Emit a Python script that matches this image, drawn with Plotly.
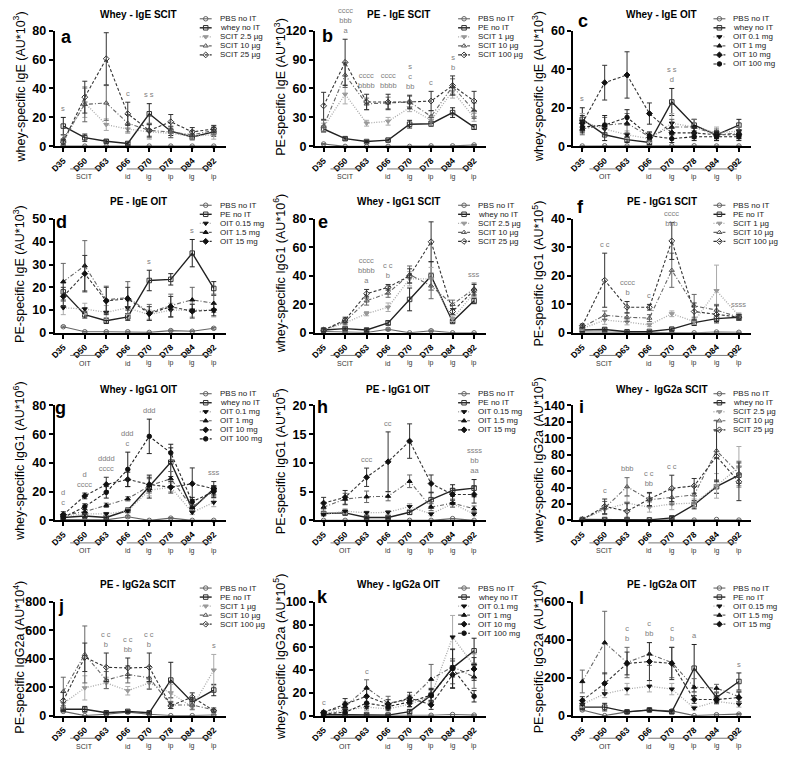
import plotly.graph_objects as go

W, H = 785, 757
FONT = "Liberation Sans, Arial, sans-serif"

DAYS = ["D35", "D50", "D63", "D66", "D70", "D78", "D84", "D92"]
TREAT = ["id", "ig", "ip", "ig", "ip"]

# ---- panel a: whey IgE, SCIT ----
A_NAMES = ["PBS no IT", "whey no IT", "SCIT 2.5 µg", "SCIT 10 µg", "SCIT 25 µg"]
A_VALS = [[0.3, 0.2, 0.2, 0.2, 0.2, 0.2, 0.2, 0.2],
          [14, 6, 3.5, 2, 22.5, 10.5, 6.5, 10],
          [3, 30, 15, 12, 10, 9, 7, 8],
          [5, 29, 30, 16, 11, 10, 8, 11],
          [3, 34, 60.5, 22.5, 11, 17, 10, 12]]
A_ERRS = [[0, 0, 0, 0, 0, 0, 0, 0],
          [6, 2.5, 1, 1, 7, 3, 2, 3],
          [2, 10, 4, 3, 5, 3, 2, 3],
          [3, 12, 12, 6, 5, 4, 3, 3],
          [2, 11, 18, 8, 4, 5, 3, 2.5]]
A_SIG = {0: "s", 2: "ccc", 3: "c", 4: "s s"}

# ---- panel b: PE IgE, SCIT ----
B_NAMES = ["PBS no IT", "PE no IT", "SCIT 1 µg", "SCIT 10 µg", "SCIT 100 µg"]
B_VALS = [[2.5, 0, 0, 0, 0, 0.5, 0.5, 1.5],
          [18, 8, 5, 6.5, 23, 23.5, 35, 20],
          [20, 54, 24, 26, 40, 27, 57, 30],
          [21, 74, 44, 45, 46, 31, 62, 37],
          [42, 87, 46, 46, 46, 47, 63, 47]]
B_ERRS = [[0.5, 0, 0, 0, 0, 0.3, 0.3, 0.5],
          [3, 1.5, 1, 1, 4, 2.5, 5, 2.5],
          [4, 10, 3, 4, 4, 5, 7, 4],
          [6, 13, 6, 6, 6, 6, 8, 8],
          [14, 24, 8, 8, 7, 10, 10, 10]]
B_SIG = {1: "cccc<br>bbb<br>a", 2: "cccc<br>bbbb", 3: "cccc<br>bbbb",
         4: "s<br>c<br>bb", 5: "c", 6: "s<br>b"}

# ---- panel c: whey IgE, OIT ----
C_NAMES = ["PBS no IT", "whey no IT", "OIT 0.1 mg", "OIT 1 mg", "OIT 10 mg", "OIT 100 mg"]
C_VALS = [[0.2, 0.3, 0.2, 0.2, 0.3, 0.3, 0.2, 0.2],
          [14, 6, 3.5, 2, 23, 11, 6, 11],
          [13, 9, 6, 4, 12, 10, 7, 8],
          [9, 11, 12, 5, 10, 10, 6, 7],
          [12, 33, 37, 17, 7, 7, 6, 6],
          [10, 11, 15, 5.5, 4, 5, 5, 5]]
C_ERRS = [[0, 0, 0, 0, 0, 0, 0, 0],
          [6, 3, 1.5, 1, 7, 3, 2, 3],
          [4, 3, 2, 2, 5, 4, 3, 2],
          [3, 4, 5, 2, 4, 4, 3, 3],
          [4, 9, 12, 5.5, 3, 3, 2, 2],
          [3, 5, 4, 2, 2, 2, 2, 2]]
C_SIG = {0: "s", 4: "s s<br>d"}

# ---- panel d: PE IgE, OIT ----
D_NAMES = ["PBS no IT", "PE no IT", "OIT 0.15 mg", "OIT 1.5 mg", "OIT 15 mg"]
D_VALS = [[2.7, 0.5, 0.5, 0.5, 0.2, 1, 0.7, 2],
          [18, 8, 5.3, 7, 23, 23.5, 35, 19.5],
          [11, 10.5, 9, 11, 8, 10, 10, 10],
          [22.5, 29.5, 14.5, 15.5, 9, 12, 14.5, 13],
          [16, 26, 14, 15, 8.5, 11.5, 9.5, 10]]
D_ERRS = [[0.3, 0.2, 0.2, 0.2, 0.1, 0.3, 0.2, 0.4],
          [4, 1.5, 1.2, 1.5, 4.5, 2.5, 6, 3],
          [3, 2.5, 3, 3, 2, 3, 3, 3],
          [8, 11, 6, 7, 3.5, 5, 5.5, 4],
          [4, 8, 6, 5, 3, 4.5, 3, 2.5]]
D_SIG = {4: "s", 6: "s"}

# ---- panel e: whey IgG1, SCIT ----
E_NAMES = ["PBS no IT", "whey no IT", "SCIT 2.5 µg", "SCIT 10 µg", "SCIT 25 µg"]
E_VALS = [[1, 0.5, 0.3, 2.5, 0, 1.5, 0, 0],
          [2, 3, 2, 7, 23.5, 40, 8, 22.5],
          [2, 7, 13.5, 18, 38, 38, 10, 28],
          [2, 8, 22.5, 28, 41, 33, 20, 31],
          [2, 9, 27.5, 32, 40, 64, 15, 30]]
E_ERRS = [[0.3, 0.2, 0.1, 0.8, 0, 0.5, 0, 0],
          [1, 1, 1, 1.5, 8, 10, 1, 2],
          [1, 2, 1.5, 3, 5, 8, 2, 3],
          [1, 2, 3, 3, 6, 9, 3, 4],
          [1, 2, 3, 2, 5, 14, 2, 4]]
E_SIG = {2: "cccc<br>bbbb<br>a", 3: "c c<br>b", 7: "sss"}

# ---- panel f: PE IgG1, SCIT ----
F_NAMES = ["PBS no IT", "PE no IT", "SCIT 1 µg", "SCIT 10 µg", "SCIT 100 µg"]
F_VALS = [[0.3, 0.2, 0.1, 0.1, 0, 0, 0.3, 0.2],
          [1, 1.2, 0.4, 0.5, 1.3, 3.6, 5, 5.5],
          [1.5, 4.5, 3.8, 2.8, 6.7, 4, 14.8, 6],
          [2, 6.2, 5.5, 5.2, 22, 9.5, 8, 5.5],
          [2.5, 18.5, 9, 9, 32.3, 7.5, 6.5, 5.5]]
F_ERRS = [[0, 0, 0, 0, 0, 0, 0, 0],
          [0.5, 0.5, 0.2, 0.2, 0.4, 1, 1, 1],
          [0.5, 1.5, 1, 0.6, 1, 1, 9, 1],
          [0.6, 1.5, 1.5, 1.2, 6, 4, 2, 1],
          [0.6, 9.5, 2, 1, 6.5, 3, 3, 1]]
F_SIG = {1: "c c", 2: "cccc<br>b", 3: "c", 4: ("cccc<br>bbb", 36), 7: "ssss"}

# ---- panel g: whey IgG1, OIT ----
G_NAMES = ["PBS no IT", "whey no IT", "OIT 0.1 mg", "OIT 1 mg", "OIT 10 mg", "OIT 100 mg"]
G_VALS = [[0.5, 0.3, 0.3, 2.5, 0, 1.5, 0, 0],
          [2, 3, 2, 7, 23.5, 40.5, 8, 22],
          [3, 4.5, 4.5, 6.5, 21, 23, 5.5, 12.5],
          [3.5, 6, 10.5, 15, 24, 29, 9, 21],
          [4, 17, 25, 28.5, 25, 23, 25.5, 22],
          [2, 9.5, 19.5, 35.5, 58.5, 47, 13, 20]]
G_ERRS = [[0.2, 0.1, 0.1, 0.8, 0, 0.5, 0, 0],
          [1, 1, 1, 1.5, 8, 10, 1, 2],
          [1, 1, 1, 1.5, 4, 3, 1.5, 3],
          [1, 1.5, 1.5, 1.5, 5, 5, 2, 3],
          [2, 2, 5, 5, 5, 4, 11, 5],
          [1, 2, 4, 12, 12, 6, 3, 4]]
G_SIG = {0: "d<br>c", 1: "d<br>cccc", 2: "dddd<br>cccc", 3: "ddd<br>c", 4: "ddd", 7: "sss"}

# ---- panel h: PE IgG1, OIT ----
H_NAMES = ["PBS no IT", "PE no IT", "OIT 0.15 mg", "OIT 1.5 mg", "OIT 15 mg"]
H_VALS = [[0, 0, 0, 0, 0, 0, 0.3, 0],
          [1.2, 1.3, 0.5, 0.5, 1.4, 3.6, 5.2, 5.6],
          [1, 1.6, 1.3, 1.4, 2.4, 1.1, 2.9, 1.1],
          [2.3, 3.7, 4.1, 4.2, 6.8, 2.3, 3, 2],
          [3, 4, 7.5, 10.2, 13.8, 6.4, 4.5, 4.5]]
H_ERRS = [[0, 0, 0, 0, 0, 0, 0, 0],
          [0.3, 0.4, 0.2, 0.2, 0.4, 1.2, 1, 1.5],
          [0.3, 0.4, 0.3, 0.3, 0.5, 0.3, 0.6, 0.3],
          [0.8, 1, 1, 0.8, 1.1, 0.6, 0.7, 0.5],
          [1, 1.2, 1.6, 5.2, 3, 1.5, 1, 1.5]]
H_SIG = {2: "ccc", 3: "cc", 7: "ssss<br>bb<br>aa"}

# ---- panel i: whey IgG2a, SCIT ----
I_NAMES = ["PBS no IT", "whey no IT", "SCIT 2.5 µg", "SCIT 10 µg", "SCIT 25 µg"]
I_VALS = [[0.5, 0.5, 0.3, 0.3, 0.3, 0.3, 1, 0.3],
          [1, 1, 1, 0.5, 3, 19, 41, 55],
          [1, 13, 21, 16, 20, 21, 42, 65],
          [1, 15, 41, 25, 28, 31, 85, 57],
          [1, 17, 11, 26, 39, 42, 78, 47]]
I_ERRS = [[0, 0, 0, 0, 0, 0, 0, 0],
          [0.5, 0.5, 0.5, 0.3, 1.5, 5, 8, 10],
          [0.5, 5, 8, 6, 7, 5, 15, 25],
          [0.5, 8, 11, 8, 9, 10, 37, 15],
          [0.5, 9, 10, 8, 16, 9, 31, 23]]
I_SIG = {1: "c", 2: "bbb", 3: "c c<br>bb", 4: "c c"}

# ---- panel j: PE IgG2a, SCIT ----
J_NAMES = ["PBS no IT", "PE no IT", "SCIT 1 µg", "SCIT 10 µg", "SCIT 100 µg"]
J_VALS = [[30, 0, 10, 25, 10, 0, 0, 5],
          [45, 45, 20, 30, 20, 250, 95, 180],
          [85, 195, 230, 175, 230, 160, 60, 320],
          [170, 430, 250, 290, 265, 75, 75, 40],
          [105, 410, 340, 335, 340, 70, 130, 35]]
J_ERRS = [[5, 0, 3, 5, 3, 0, 0, 2],
          [10, 20, 8, 8, 8, 125, 30, 40],
          [30, 85, 40, 30, 40, 60, 20, 110],
          [100, 200, 60, 60, 80, 25, 30, 15],
          [60, 100, 100, 70, 100, 20, 30, 10]]
J_SIG = {2: "c c<br>b", 3: "c c<br>bb", 4: "c c<br>b", 7: "s"}

# ---- panel k: whey IgG2a, OIT ----
K_NAMES = ["PBS no IT", "whey no IT", "OIT 0.1 mg", "OIT 1 mg", "OIT 10 mg", "OIT 100 mg"]
K_VALS = [[0, 0.3, 0.3, 0.3, 0.3, 0.3, 1, 0.5],
          [1, 1, 1, 0.5, 3.5, 18, 42, 57],
          [2, 5, 7.5, 6, 10, 17, 69, 44],
          [3, 8, 24.5, 11, 14, 32, 43, 34],
          [3, 10, 17, 10, 15.5, 9.5, 36, 41],
          [1.5, 3, 11, 8, 12, 18, 41.5, 17]]
K_ERRS = [[0, 0, 0, 0, 0, 0, 0, 0],
          [0.5, 0.5, 0.5, 0.3, 1.5, 5, 8, 11],
          [1, 2, 3, 2, 3, 5, 19, 10],
          [1, 4, 7, 6, 4, 13, 15, 10],
          [1, 5, 6, 4, 5, 4, 12, 10],
          [1, 2, 5, 3, 4, 6, 17, 5]]
K_SIG = {0: "c", 2: "c"}

# ---- panel l: PE IgG2a, OIT ----
L_NAMES = ["PBS no IT", "PE no IT", "OIT 0.15 mg", "OIT 1.5 mg", "OIT 15 mg"]
L_VALS = [[30, 0, 20, 30, 25, 0, 5, 8],
          [45, 45, 20, 30, 20, 250, 95, 180],
          [60, 115, 140, 155, 140, 40, 75, 60],
          [180, 385, 280, 325, 280, 150, 145, 100],
          [80, 170, 275, 285, 275, 85, 85, 95]]
L_ERRS = [[5, 0, 4, 5, 4, 0, 2, 3],
          [10, 20, 8, 8, 8, 125, 25, 45],
          [15, 20, 30, 30, 30, 10, 15, 15],
          [60, 165, 80, 60, 80, 45, 20, 25],
          [20, 55, 60, 100, 85, 20, 20, 30]]
L_SIG = {2: "c<br>b", 3: "c<br>bb", 4: "c<br>b", 5: "a", 7: "s"}

PANELS = [
    dict(letter="a", title="Whey - IgE SCIT", ytitle="whey-specific IgE (AU*10<sup>3</sup>)", ymax=80, dtick=20,
         route="SCIT", names=A_NAMES, vals=A_VALS, errs=A_ERRS, sig=A_SIG, lpos=(62, 31)),
    dict(letter="b", title="PE - IgE SCIT", ytitle="PE-specific IgE (AU*10<sup>3</sup>)", ymax=120, dtick=30,
         route="SCIT", names=B_NAMES, vals=B_VALS, errs=B_ERRS, sig=B_SIG, lpos=(325, 30)),
    dict(letter="c", title="Whey - IgE OIT", ytitle="whey-specific IgE (AU*10<sup>3</sup>)", ymax=60, dtick=20,
         route="OIT", names=C_NAMES, vals=C_VALS, errs=C_ERRS, sig=C_SIG, lpos=(582, 14)),
    dict(letter="d", title="PE - IgE OIT", ytitle="PE-specific IgE (AU*10<sup>3</sup>)", ymax=50, dtick=10,
         route="OIT", names=D_NAMES, vals=D_VALS, errs=D_ERRS, sig=D_SIG, lpos=(57, 219)),
    dict(letter="e", title="Whey - IgG1 SCIT", ytitle="whey-specific IgG1 (AU*10<sup>6</sup>)", ymax=80, dtick=20,
         route="SCIT", names=E_NAMES, vals=E_VALS, errs=E_ERRS, sig=E_SIG, lpos=(320, 219)),
    dict(letter="f", title="PE - IgG1 SCIT", ytitle="PE-specific IgG1 (AU*10<sup>5</sup>)", ymax=40, dtick=10,
         route="SCIT", names=F_NAMES, vals=F_VALS, errs=F_ERRS, sig=F_SIG, lpos=(579, 204)),
    dict(letter="g", title="Whey - IgG1 OIT", ytitle="whey-specific IgG1 (AU*10<sup>6</sup>)", ymax=80, dtick=20,
         route="OIT", names=G_NAMES, vals=G_VALS, errs=G_ERRS, sig=G_SIG, lpos=(56, 409)),
    dict(letter="h", title="PE - IgG1 OIT", ytitle="PE-specific IgG1 (AU*10<sup>5</sup>)", ymax=20, dtick=5,
         route="OIT", names=H_NAMES, vals=H_VALS, errs=H_ERRS, sig=H_SIG, lpos=(320, 408)),
    dict(letter="i", title="Whey -  IgG2a SCIT", ytitle="whey-specific IgG2a (AU*10<sup>5</sup>)", ymax=140, dtick=20,
         route="SCIT", names=I_NAMES, vals=I_VALS, errs=I_ERRS, sig=I_SIG, lpos=(580, 408)),
    dict(letter="j", title="PE - IgG2a SCIT", ytitle="PE-specific IgG2a (AU*10<sup>4</sup>)", ymax=800, dtick=200,
         route="SCIT", names=J_NAMES, vals=J_VALS, errs=J_ERRS, sig=J_SIG, lpos=(56, 610)),
    dict(letter="k", title="Whey - IgG2a OIT", ytitle="whey-specific IgG2a (AU*10<sup>5</sup>)", ymax=100, dtick=20,
         route="OIT", names=K_NAMES, vals=K_VALS, errs=K_ERRS, sig=K_SIG, lpos=(320, 601)),
    dict(letter="l", title="PE - IgG2a OIT", ytitle="PE-specific IgG2a (AU*10<sup>4</sup>)", ymax=600, dtick=200,
         route="OIT", names=L_NAMES, vals=L_VALS, errs=L_ERRS, sig=L_SIG, lpos=(580, 602)),
]

# geometry in pixels
COL_X = [(50, 222), (312, 484), (572, 751)]
ROW_Y = [(24, 142), (216, 332), (406, 523), (606, 722)]
TITLE_Y = [8, 198, 390, 588]
TITLE_X = [134, 396, 661]
YTITLE_X = [14, 276, 536]
LEG_X = [214, 474, 731]

LINES = [dict(color="#666666", dash="solid", width=1.1),
         dict(color="#222222", dash="solid", width=1.4),
         dict(color="#aaaaaa", dash="1px,1.5px", width=1.3),
         dict(color="#666666", dash="4px,2px,1px,2px", width=1.1),
         dict(color="#333333", dash="3px,2px", width=1.1),
         dict(color="#222222", dash="3px,2px", width=1.1)]
MARK_SCIT = [("circle-open", "#666666"), ("square-open", "#333333"), ("triangle-down", "#999999"),
             ("triangle-up-open", "#555555"), ("diamond-open", "#333333")]
MARK_OIT = [("circle-open", "#666666"), ("square-open", "#333333"), ("triangle-down", "#111111"),
            ("triangle-up", "#111111"), ("diamond", "#111111"), ("circle", "#111111")]


def px(x):
    return x / W


def py(y):
    return 1 - y / H


fig = go.Figure()
ann = []
shapes = []

for p, P in enumerate(PANELS):
    r, c = divmod(p, 3)
    n = "" if p == 0 else str(p + 1)
    xa, ya = "x" + n, "y" + n
    marks = MARK_SCIT if P["route"] == "SCIT" else MARK_OIT

    for i, (name, v, e) in enumerate(zip(P["names"], P["vals"], P["errs"])):
        ls = LINES[i]
        sym, mc = marks[i]
        fig.add_trace(go.Scatter(
            x=DAYS, y=v, xaxis=xa, yaxis=ya, mode="lines+markers", name=name, showlegend=False,
            line=dict(color=ls["color"], dash=ls["dash"], width=ls["width"]),
            marker=dict(symbol=sym, color=mc, size=4.5, line=dict(color=mc, width=1)),
            error_y=dict(type="data", array=e, color=ls["color"], thickness=1, width=2.5),
            cliponaxis=False))

        # legend key drawn on the pixel overlay axis
        ly = TITLE_Y[r] + 4 + 9.2 * i
        lx = LEG_X[c]
        fig.add_trace(go.Scatter(
            x=[lx - 18, lx - 6], y=[ly, ly], xaxis="x13", yaxis="y13", mode="lines", showlegend=False,
            line=dict(color=ls["color"], dash=ls["dash"], width=ls["width"]), hoverinfo="skip"))
        fig.add_trace(go.Scatter(
            x=[lx - 12], y=[ly], xaxis="x13", yaxis="y13", mode="markers", showlegend=False,
            marker=dict(symbol=sym, color=mc, size=4.5, line=dict(color=mc, width=1)), hoverinfo="skip"))
        ann.append(dict(x=px(lx), y=py(ly), xref="paper", yref="paper", text=name, showarrow=False,
                        xanchor="left", yanchor="middle", font=dict(size=8, color="#222", family=FONT)))

    x0, x1 = COL_X[c]
    yt, yb = ROW_Y[r]
    fig.update_layout(**{
        "xaxis" + n: dict(domain=[px(x0), px(x1)], anchor=ya, type="category",
                          categoryorder="array", categoryarray=DAYS,
                          range=[-0.4, 7.55], showline=True, linewidth=2, linecolor="black",
                          ticks="outside", ticklen=4, tickwidth=1.5, tickcolor="black", tickangle=-45,
                          tickfont=dict(size=8.5, family=FONT, color="black", weight="bold"),
                          showgrid=False, zeroline=False),
        "yaxis" + n: dict(domain=[py(yb), py(yt)], anchor=xa, range=[0, P["ymax"]],
                          tickvals=list(range(0, P["ymax"] + 1, P["dtick"])),
                          showline=True, linewidth=2, linecolor="black", ticks="outside", ticklen=4,
                          tickwidth=1.5, tickcolor="black",
                          tickfont=dict(size=12.5, family=FONT, color="black", weight="bold"),
                          showgrid=False, zeroline=False),
    })

    # titles, letter, y title
    ann.append(dict(x=px(TITLE_X[c]), y=py(TITLE_Y[r]), xref="paper", yref="paper", text=P["title"],
                    showarrow=False, xanchor="center", yanchor="middle",
                    font=dict(size=10, family=FONT, color="black", weight="bold")))
    ann.append(dict(x=px(P["lpos"][0]), y=py(P["lpos"][1]), xref="paper", yref="paper", text=P["letter"],
                    showarrow=False, xanchor="center", yanchor="middle",
                    font=dict(size=18, family=FONT, color="black", weight="bold")))
    ann.append(dict(x=px(YTITLE_X[c]), y=py((yt + yb) / 2 - 2), xref="paper", yref="paper", text=P["ytitle"],
                    showarrow=False, textangle=-90, xanchor="center", yanchor="middle",
                    font=dict(size=12.5, family=FONT, color="black")))

    # significance letters above the highest error bar (or at a read-off height)
    for idx, item in P["sig"].items():
        if isinstance(item, tuple):
            txt, ypos = item
        else:
            txt = item
            ypos = max(v[idx] + e[idx] for v, e in zip(P["vals"], P["errs"])) + 0.02 * P["ymax"]
        ann.append(dict(x=DAYS[idx], y=ypos, xref=xa, yref=ya, text=txt, showarrow=False,
                        xanchor="center", yanchor="bottom",
                        font=dict(size=7.5, family=FONT, color="#808080")))

    # treatment brackets under the axis
    by = py(yb + 23)
    ly2 = py(yb + 31)
    shapes.append(dict(type="line", xref=xa, yref="paper", x0=0.32, x1=1.8, y0=by, y1=by,
                       line=dict(color="#777", width=1)))
    shapes.append(dict(type="line", xref=xa, yref="paper", x0=2.95, x1=6.9, y0=by, y1=by,
                       line=dict(color="#777", width=1)))
    ann.append(dict(x=DAYS[1], y=ly2, xref=xa, yref="paper", text=P["route"], showarrow=False,
                    xanchor="center", yanchor="middle", font=dict(size=7, family=FONT, color="#333")))
    for k, t in enumerate(TREAT):
        ann.append(dict(x=DAYS[3 + k], y=ly2, xref=xa, yref="paper", text=t, showarrow=False,
                        xanchor="center", yanchor="middle", font=dict(size=7, family=FONT, color="#333")))

fig.update_layout(
    xaxis13=dict(domain=[0, 1], range=[0, W], visible=False, anchor="y13", fixedrange=True),
    yaxis13=dict(domain=[0, 1], range=[H, 0], visible=False, anchor="x13", fixedrange=True),
    width=W, height=H, margin=dict(l=0, r=0, t=0, b=0),
    plot_bgcolor="rgba(0,0,0,0)", paper_bgcolor="white",
    annotations=ann, shapes=shapes, showlegend=False,
    font=dict(family=FONT),
)

# the page body has a default 8px margin; drop it so the figure sits at the window corner
fig.write_html("out.html", config={"displayModeBar": False},
               post_script="document.body.style.margin='0';")
